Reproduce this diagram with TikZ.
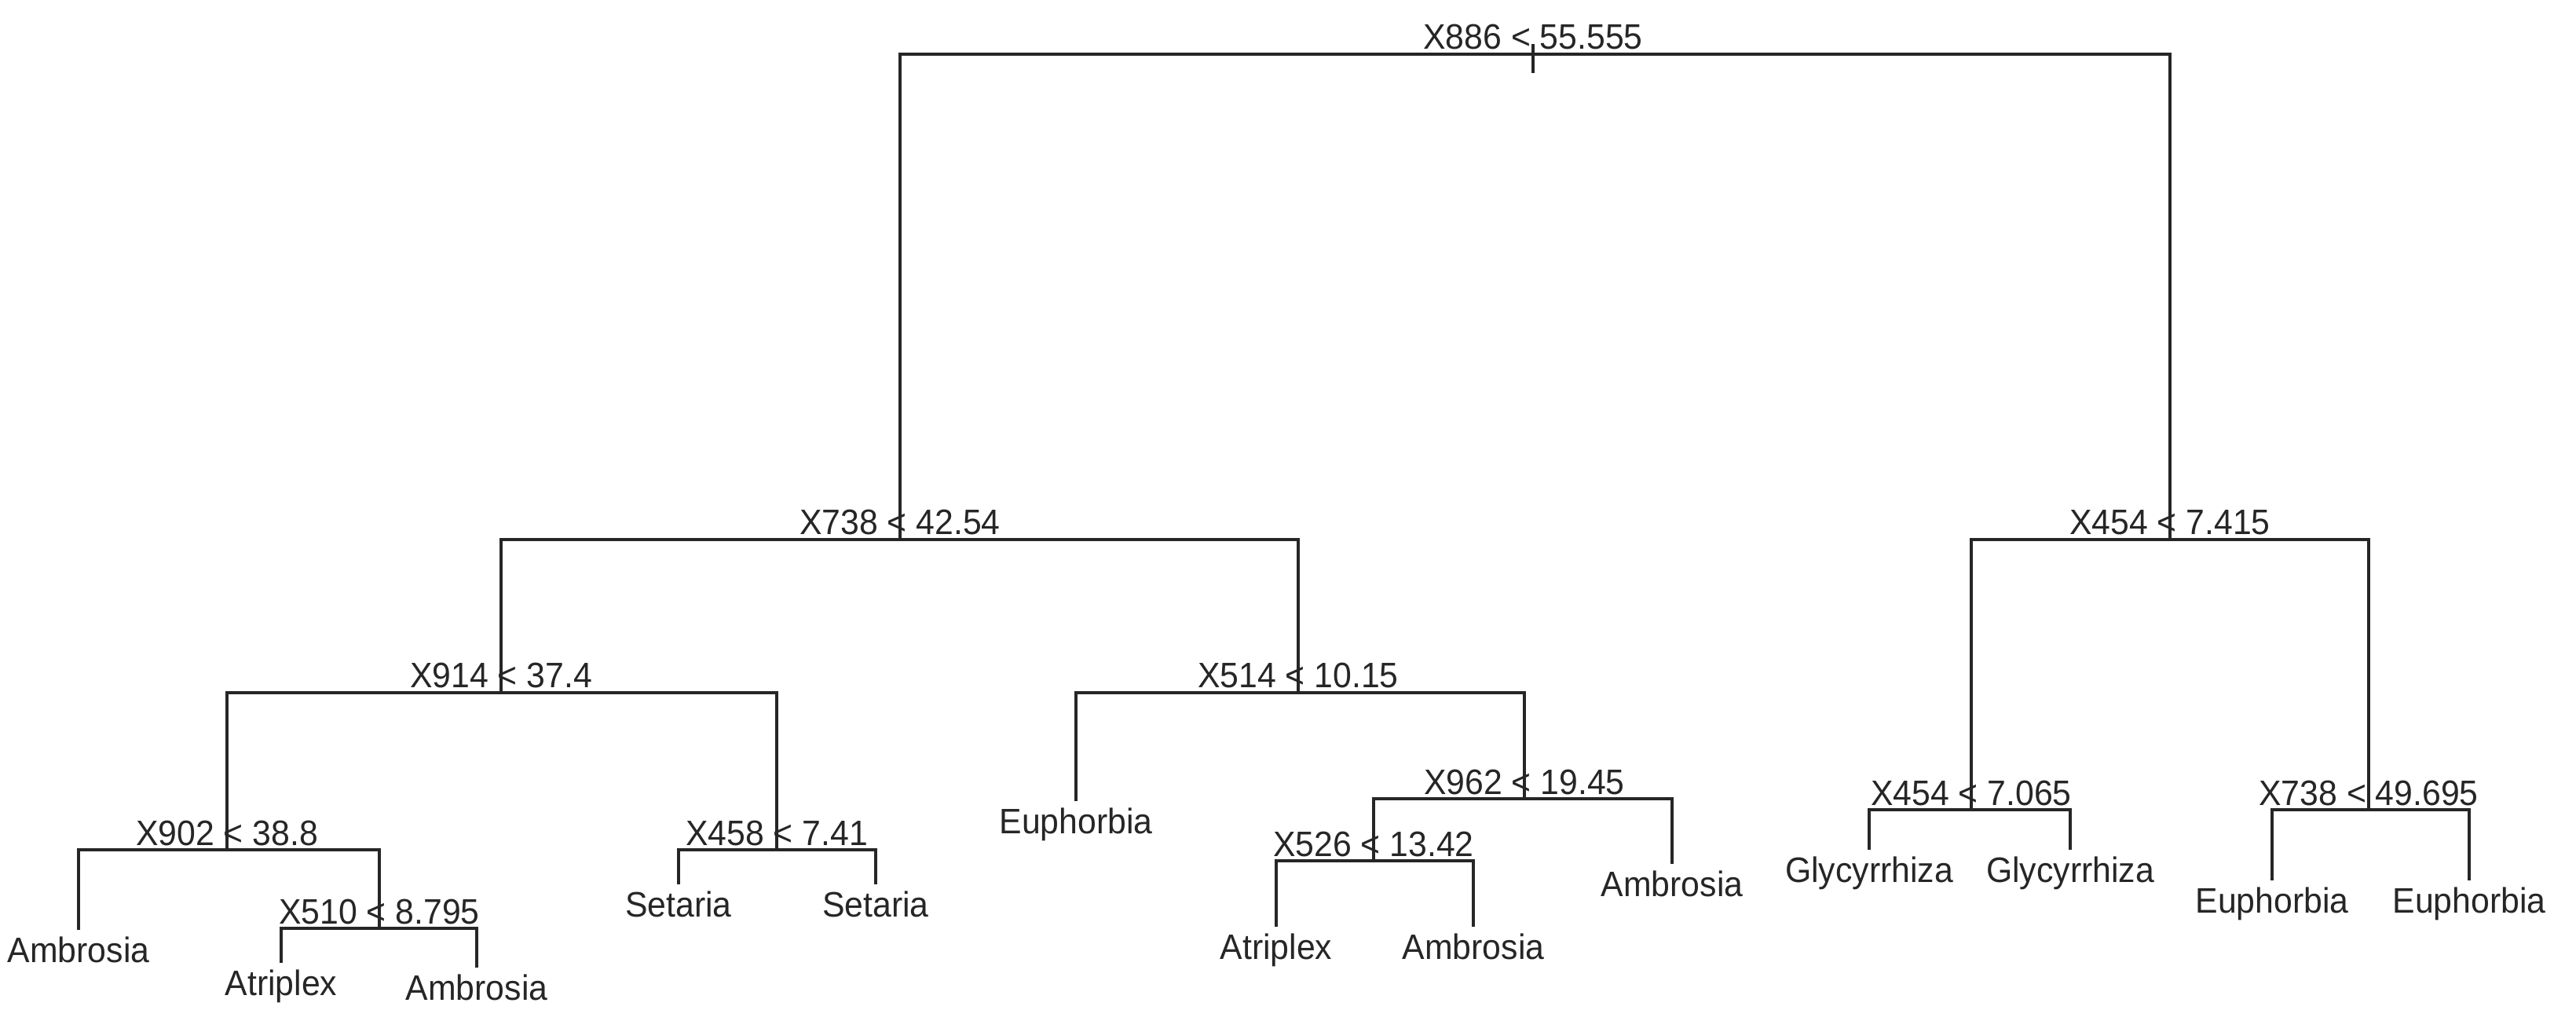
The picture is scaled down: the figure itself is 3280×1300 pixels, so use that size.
\documentclass[tikz,border=0pt]{standalone}
\usepackage{fontspec}
\setmainfont{Liberation Sans}
\begin{document}
\begin{tikzpicture}[x=0.01cm,y=-0.01cm,
  edge/.style={draw=black!85,line width=1pt},
  split/.style={anchor=base,inner sep=0pt,xscale=0.95,transform shape,font=\fontsize{12.8}{15}\selectfont,text=black!85},
  leaf/.style={anchor=north,inner sep=0pt,xscale=0.95,transform shape,font=\fontsize{12.8}{15}\selectfont,text=black!85}]
\useasboundingbox[fill=white] (0,0) rectangle (3280,1300);
% split points
\coordinate (root) at (1952,69);
\coordinate (roottop) at (1952,56);
\coordinate (rootstub) at (1952,93);
\coordinate (n738) at (1146,687);
\coordinate (n454a) at (2763,687);
\coordinate (n914) at (638,882);
\coordinate (n514) at (1653,882);
\coordinate (n902) at (289,1082);
\coordinate (n458) at (989,1082);
\coordinate (n962) at (1941,1017);
\coordinate (n510) at (483,1182);
\coordinate (n526) at (1749,1096);
\coordinate (n454b) at (2510,1031);
\coordinate (n738b) at (3016,1031);
% leaves
\coordinate (l1) at (100,1184);
\coordinate (l2) at (358,1226);
\coordinate (l3) at (607,1232);
\coordinate (l4) at (864,1126);
\coordinate (l5) at (1115,1126);
\coordinate (l6) at (1370,1020);
\coordinate (l7) at (1625,1180);
\coordinate (l8) at (1876,1180);
\coordinate (l9) at (2129,1100);
\coordinate (l10) at (2380,1082);
\coordinate (l11) at (2636,1082);
\coordinate (l12) at (2893,1121);
\coordinate (l13) at (3144,1121);
% edges
\draw[edge] (roottop) -- (rootstub);
\draw[edge] (root) -| (n738);
\draw[edge] (root) -| (n454a);
\draw[edge] (n738) -| (n914);
\draw[edge] (n738) -| (n514);
\draw[edge] (n914) -| (n902);
\draw[edge] (n914) -| (n458);
\draw[edge] (n902) -| (l1);
\draw[edge] (n902) -| (n510);
\draw[edge] (n510) -| (l2);
\draw[edge] (n510) -| (l3);
\draw[edge] (n458) -| (l4);
\draw[edge] (n458) -| (l5);
\draw[edge] (n514) -| (l6);
\draw[edge] (n514) -| (n962);
\draw[edge] (n962) -| (n526);
\draw[edge] (n962) -| (l9);
\draw[edge] (n526) -| (l7);
\draw[edge] (n526) -| (l8);
\draw[edge] (n454a) -| (n454b);
\draw[edge] (n454a) -| (n738b);
\draw[edge] (n454b) -| (l10);
\draw[edge] (n454b) -| (l11);
\draw[edge] (n738b) -| (l12);
\draw[edge] (n738b) -| (l13);
% split labels
\node[split] (t886) at ([yshift=0.06cm]root) {X886 < 55.555};
\node[split] (t738) at ([yshift=0.06cm]n738) {X738 < 42.54};
\node[split] (t454a) at ([yshift=0.06cm]n454a) {X454 < 7.415};
\node[split] (t914) at ([yshift=0.06cm]n914) {X914 < 37.4};
\node[split] (t514) at ([yshift=0.06cm]n514) {X514 < 10.15};
\node[split] (t902) at ([yshift=0.06cm]n902) {X902 < 38.8};
\node[split] (t458) at ([yshift=0.06cm]n458) {X458 < 7.41};
\node[split] (t962) at ([yshift=0.06cm]n962) {X962 < 19.45};
\node[split] (t510) at ([yshift=0.06cm]n510) {X510 < 8.795};
\node[split] (t526) at ([yshift=0.06cm]n526) {X526 < 13.42};
\node[split] (t454b) at ([yshift=0.06cm]n454b) {X454 < 7.065};
\node[split] (t738b) at ([yshift=0.06cm]n738b) {X738 < 49.695};
% leaf labels
\node[leaf] (a1) at ([yshift=-0.08cm]l1) {Ambrosia};
\node[leaf] (a2) at ([yshift=-0.08cm]l2) {Atriplex};
\node[leaf] (a3) at ([yshift=-0.08cm]l3) {Ambrosia};
\node[leaf] (a4) at ([yshift=-0.08cm]l4) {Setaria};
\node[leaf] (a5) at ([yshift=-0.08cm]l5) {Setaria};
\node[leaf] (a6) at ([yshift=-0.08cm]l6) {Euphorbia};
\node[leaf] (a7) at ([yshift=-0.08cm]l7) {Atriplex};
\node[leaf] (a8) at ([yshift=-0.08cm]l8) {Ambrosia};
\node[leaf] (a9) at ([yshift=-0.08cm]l9) {Ambrosia};
\node[leaf] (a10) at ([yshift=-0.08cm]l10) {Glycyrrhiza};
\node[leaf] (a11) at ([yshift=-0.08cm]l11) {Glycyrrhiza};
\node[leaf] (a12) at ([yshift=-0.08cm]l12) {Euphorbia};
\node[leaf] (a13) at ([yshift=-0.08cm]l13) {Euphorbia};
\end{tikzpicture}
\end{document}
